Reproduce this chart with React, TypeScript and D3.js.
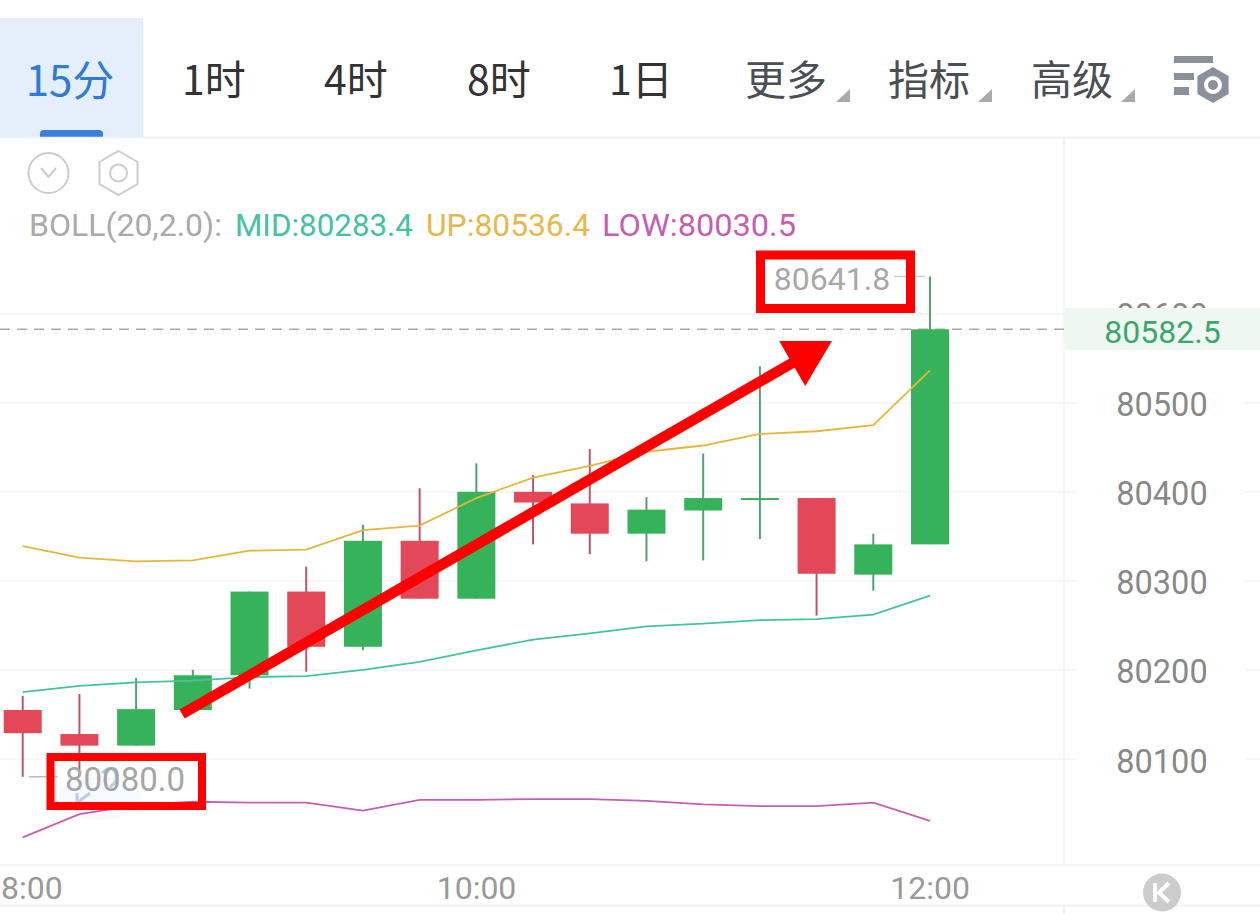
import React from "react";
import * as d3 from "d3";

// ---- data ----
const opens = [80155, 80128, 80115, 80155, 80194, 80288, 80226, 80345, 80280, 80400, 80387, 80353, 80379, 80393, 80393, 80307, 80341];
const closes = [80129, 80115, 80156, 80194, 80288, 80226, 80345, 80280, 80400, 80388, 80353, 80380, 80393, 80393, 80308, 80341, 80582.5];
const highs = [80171, 80173, 80191, 80200, 80288, 80316, 80363, 80404, 80432, 80419, 80448, 80394, 80443, 80541, 80393, 80353, 80641.8];
const lows = [80080, 80088, 80115, 80155, 80179, 80198, 80222, 80280, 80280, 80341, 80330, 80322, 80323, 80347, 80261, 80289, 80341];
const bollUp = [80339, 80326, 80322, 80323, 80334, 80335, 80357, 80362, 80393, 80416, 80429, 80445, 80452, 80465, 80468, 80475, 80536.4];
const bollMid = [80175, 80182, 80186, 80188, 80192, 80193, 80200, 80209, 80222, 80234, 80241, 80249, 80252, 80256, 80257, 80262, 80283.4];
const bollLow = [80012, 80038, 80048, 80052, 80051, 80051, 80042, 80054, 80054, 80055, 80055, 80053, 80049, 80047, 80047, 80051, 80030.5];
const priceTicks = [80100, 80200, 80300, 80400, 80500, 80600];
const timeTicks: [number, string][] = [[0, "8:00"], [8, "10:00"], [16, "12:00"]];
const lastPrice = 80582.5;
const arrowShaft: [number, number][] = [[2.81, 80150.5], [13.815, 80553.6]];
const arrowHead: [number, number][] = [[14.27, 80569.3], [13.34, 80569.3], [13.8, 80518.8]];
const tabs: [string, number][] = [["1时", 214], ["4时", 356], ["8时", 499], ["1日", 641]];
const menus: [string, number, number][] = [["更多", 786, 850], ["指标", 929, 992], ["高级", 1072, 1135]];

// ---- style ----
const W = 1260, H = 914;
const UP = "#36B25A", DOWN = "#E34858", UPW = "#4FA36C", DOWNW = "#BE5468";
const NUM = "Roboto, sans-serif";
const CJK = "'Noto Sans CJK SC', sans-serif";

const x = d3.scaleLinear().domain([0, 16]).range([22.7, 930]);
const y = d3.scaleLinear().domain([80100, 80600]).range([759, 313.7]);
const line = d3.line<number>().x((_, i) => x(i)).y((v) => y(v));
const pts = (a: [number, number][]) => a.map(([i, v]) => `${x(i)},${y(v)}`).join(" ");
const hex = (cx: number, cy: number, r: number) =>
  d3.range(6).map((k) => {
    const t = (Math.PI / 3) * k - Math.PI / 2;
    return `${cx + r * Math.cos(t)},${cy + r * Math.sin(t)}`;
  }).join(" ");
const BW = 38;

export default function App() {
  return (
    <svg width={W} height={H} viewBox={`0 0 ${W} ${H}`} style={{ position: "absolute", left: 0, top: 0, display: "block", background: "#fff" }}>
      {/* tab bar */}
      <rect x={0} y={18} width={143} height={119} fill="#E5EFFC" />
      <path d="M40 137 V134 Q40 130 44 130 H99 Q103 130 103 134 V137 Z" fill="#3F7FDC" />
      <text x={70} y={77} textAnchor="middle" dominantBaseline="central" fontFamily={CJK} fontSize={42} fill="#2F7BD5">15分</text>
      {tabs.map(([t, cx]) => (
        <text key={t} x={cx} y={77} textAnchor="middle" dominantBaseline="central" fontFamily={CJK} fontSize={41} fill="#333">{t}</text>
      ))}
      {menus.map(([t, cx, tx]) => (
        <g key={t}>
          <text x={cx} y={77} textAnchor="middle" dominantBaseline="central" fontFamily={CJK} fontSize={41} fill="#4A4F55">{t}</text>
          <polygon points={`${tx},89 ${tx},102 ${tx - 14},102`} fill="#AAA" />
        </g>
      ))}
      {/* settings icon */}
      <g fill="#8A919C">
        <rect x={1174} y={56} width={39} height={7} />
        <rect x={1174} y={73} width={20} height={7} />
        <rect x={1174} y={87} width={15} height={8} />
        <polygon points={hex(1213, 85, 18)} />
        <circle cx={1213} cy={85} r={9} fill="#fff" />
        <circle cx={1213} cy={85} r={5} />
      </g>

      {/* frame lines */}
      <line x1={0} x2={W} y1={137.5} y2={137.5} stroke="#F0F0F2" strokeWidth={1.5} />
      <line x1={1064} x2={1064} y1={138} y2={865} stroke="#F2F2F4" strokeWidth={1.5} />
      <line x1={0} x2={W} y1={865} y2={865} stroke="#F0F0F2" strokeWidth={1.5} />
      <line x1={0} x2={W} y1={905.5} y2={905.5} stroke="#F0F0F2" strokeWidth={1.5} />
      <line x1={1064} x2={1064} y1={905} y2={914} stroke="#F0F0F2" strokeWidth={1.5} />

      {/* grid */}
      {priceTicks.map((t) => (
        <g key={t} stroke="#F4F4F6" strokeWidth={1.5}>
          <line x1={0} x2={1077} y1={y(t)} y2={y(t)} />
          <line x1={1246} x2={W} y1={y(t)} y2={y(t)} />
        </g>
      ))}

      {/* indicator icons and legend */}
      <circle cx={48.5} cy={173} r={20} fill="none" stroke="#CCC" strokeWidth={2} />
      <path d="M41 168 L48.5 177 L56 168" fill="none" stroke="#CCC" strokeWidth={2} />
      <polygon points={hex(118.5, 173, 22)} fill="none" stroke="#CCC" strokeWidth={2} />
      <circle cx={118.5} cy={173} r={8.5} fill="none" stroke="#CCC" strokeWidth={2} />
      <g fontFamily={NUM} fontSize={31.5} dominantBaseline="central" lengthAdjust="spacingAndGlyphs">
        <text x={29} y={225} fill="#AAA" textLength={193} lengthAdjust="spacingAndGlyphs">BOLL(20,2.0):</text>
        <text x={235} y={225} fill="#45C1A6" textLength={178} lengthAdjust="spacingAndGlyphs">MID:80283.4</text>
        <text x={426} y={225} fill="#E6B84A" textLength={164} lengthAdjust="spacingAndGlyphs">UP:80536.4</text>
        <text x={602} y={225} fill="#C45FB4" textLength={194} lengthAdjust="spacingAndGlyphs">LOW:80030.5</text>
      </g>

      {/* watermark */}
      <ellipse cx={100} cy={798} rx={42} ry={22} fill="#F6F9FD" />
      <g fill="none" stroke="#B9CCE9" strokeWidth={3}>
        <path d="M102 773 Q112 764 116 774 Q118 782 110 787" />
        <path d="M109 770 Q103 776 106 785" />
        <path d="M77 793 V803 M90 793 L78 802" />
      </g>

      {/* axis labels */}
      {priceTicks.map((t) => (
        <text key={t} x={1162} y={y(t) + 2.5} textAnchor="middle" dominantBaseline="central" fontFamily={NUM} fontSize={32.5} fill="#888">{t}</text>
      ))}
      <rect x={1065} y={308} width={195} height={42} fill="#EEF8F1" />
      <text x={1162.5} y={y(lastPrice) + 3} textAnchor="middle" dominantBaseline="central" fontFamily={NUM} fontSize={32} fill="#3DA66A">{lastPrice.toFixed(1)}</text>
      {timeTicks.map(([i, t]) => (
        <text key={t} x={x(i) + 40} y={888} textAnchor="end" dominantBaseline="central" fontFamily={NUM} fontSize={32} fill="#999">{t}</text>
      ))}
      <circle cx={1162} cy={892.5} r={19} fill="#CCC" />
      <path d="M1155 883 V902 M1169 883 L1159 892.5 L1169 902" fill="none" stroke="#fff" strokeWidth={4} />

      {/* last price line */}
      <line x1={0} x2={1064} y1={y(lastPrice)} y2={y(lastPrice)} stroke="#AAA" strokeWidth={1.5} strokeDasharray="10 7" />

      {/* candles */}
      {opens.map((o, i) => {
        const c = closes[i];
        const up = c >= o;
        const top = y(Math.max(o, c));
        const h = Math.max(2, y(Math.min(o, c)) - top);
        return (
          <g key={i}>
            <line x1={x(i)} x2={x(i)} y1={y(highs[i])} y2={y(lows[i])} stroke={up ? UPW : DOWNW} strokeWidth={2} />
            <rect x={x(i) - BW / 2} y={top} width={BW} height={h} fill={up ? UP : DOWN} />
          </g>
        );
      })}

      {/* Bollinger bands */}
      <path d={line(bollUp) ?? ""} fill="none" stroke="#E6B53C" strokeWidth={1.8} />
      <path d={line(bollMid) ?? ""} fill="none" stroke="#45C1A6" strokeWidth={1.8} />
      <path d={line(bollLow) ?? ""} fill="none" stroke="#C45FB4" strokeWidth={1.8} />

      {/* high and low labels */}
      <line x1={894} x2={925} y1={y(80641.8)} y2={y(80641.8)} stroke="#CCC" strokeWidth={1.5} />
      <text x={832} y={279} textAnchor="middle" dominantBaseline="central" fontFamily={NUM} fontSize={32} fill="#A8A8A8">80641.8</text>
      <line x1={29} x2={58} y1={y(80080)} y2={y(80080)} stroke="#BBB" strokeWidth={1.5} />
      <text x={125} y={779} textAnchor="middle" dominantBaseline="central" fontFamily={NUM} fontSize={33} fill="#A5A5A5">80080.0</text>

      {/* red annotations */}
      <rect x={760.5} y={255} width={150} height={53.5} fill="none" stroke="#FF0000" strokeWidth={9} />
      <rect x={50.5} y={757} width={151.5} height={49} fill="none" stroke="#FF0000" strokeWidth={8} />
      <polyline points={pts(arrowShaft)} fill="none" stroke="#FF0000" strokeWidth={10.5} />
      <polygon points={pts(arrowHead)} fill="#FF0000" />
    </svg>
  );
}
